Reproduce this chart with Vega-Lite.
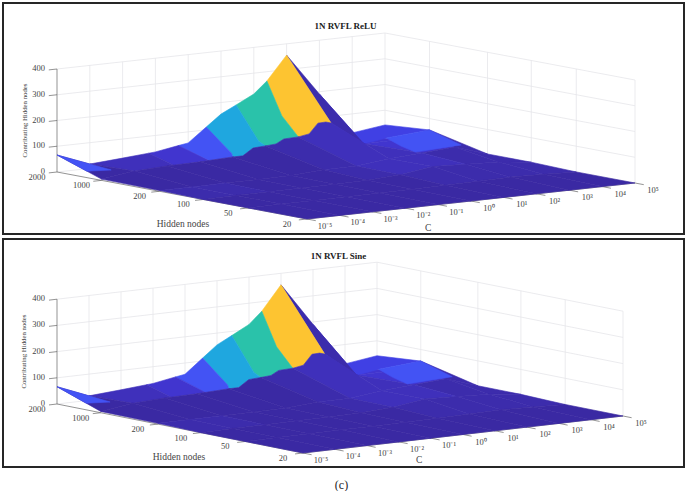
{"$schema":"https://vega.github.io/schema/vega-lite/v6.json","padding":{"left":2,"top":2,"right":2,"bottom":0},"spacing":3,"background":"white","config":{"view":{"stroke":"#262626","strokeWidth":2},"text":{"font":"Liberation Serif"},"title":{"font":"Liberation Serif"}},"title":{"text":"(c)","orient":"bottom","anchor":"middle","font":"Liberation Serif","fontSize":12,"fontWeight":"normal","color":"#222","offset":12,"dx":-2},"datasets":{"scene":[
{"kind":"g","id":"h0","c":[0,10],"f":[0,0],"z":[0,0],"k":[0,1]},{"kind":"g","id":"h1","c":[0,10],"f":[0,0],"z":[100,100],"k":[0,1]},{"kind":"g","id":"h2","c":[0,10],"f":[0,0],"z":[200,200],"k":[0,1]},{"kind":"g","id":"h3","c":[0,10],"f":[0,0],"z":[300,300],"k":[0,1]},{"kind":"g","id":"h4","c":[0,10],"f":[0,0],"z":[400,400],"k":[0,1]},
{"kind":"g","id":"r0","c":[10,10],"f":[0,1],"z":[0,0],"k":[0,1]},{"kind":"g","id":"r1","c":[10,10],"f":[0,1],"z":[100,100],"k":[0,1]},{"kind":"g","id":"r2","c":[10,10],"f":[0,1],"z":[200,200],"k":[0,1]},{"kind":"g","id":"r3","c":[10,10],"f":[0,1],"z":[300,300],"k":[0,1]},{"kind":"g","id":"r4","c":[10,10],"f":[0,1],"z":[400,400],"k":[0,1]},
{"kind":"g","id":"v1","c":[1,1],"f":[0,0],"z":[0,400],"k":[0,1]},{"kind":"g","id":"v2","c":[2,2],"f":[0,0],"z":[0,400],"k":[0,1]},{"kind":"g","id":"v3","c":[3,3],"f":[0,0],"z":[0,400],"k":[0,1]},{"kind":"g","id":"v4","c":[4,4],"f":[0,0],"z":[0,400],"k":[0,1]},{"kind":"g","id":"v5","c":[5,5],"f":[0,0],"z":[0,400],"k":[0,1]},{"kind":"g","id":"v6","c":[6,6],"f":[0,0],"z":[0,400],"k":[0,1]},{"kind":"g","id":"v7","c":[7,7],"f":[0,0],"z":[0,400],"k":[0,1]},{"kind":"g","id":"v8","c":[8,8],"f":[0,0],"z":[0,400],"k":[0,1]},{"kind":"g","id":"v9","c":[9,9],"f":[0,0],"z":[0,400],"k":[0,1]},{"kind":"g","id":"v10","c":[10,10],"f":[0,0],"z":[0,400],"k":[0,1]},
{"kind":"g","id":"w1","c":[10,10],"f":[0.178,0.178],"z":[0,400],"k":[0,1]},{"kind":"g","id":"w2","c":[10,10],"f":[0.41,0.41],"z":[0,400],"k":[0,1]},{"kind":"g","id":"w3","c":[10,10],"f":[0.585,0.585],"z":[0,400],"k":[0,1]},{"kind":"g","id":"w4","c":[10,10],"f":[0.765,0.765],"z":[0,400],"k":[0,1]},{"kind":"g","id":"w5","c":[10,10],"f":[1,1],"z":[0,400],"k":[0,1]},
{"kind":"a","id":"az","c":[0,0],"f":[0,0],"z":[0,400],"k":[0,1]},{"kind":"a","id":"al","c":[0,0],"f":[0,1],"z":[0,0],"k":[0,1]},{"kind":"a","id":"af","c":[0,10],"f":[1,1],"z":[0,0],"k":[0,1]},
{"kind":"a","id":"tz0","c":[-0.25,0],"f":[0,0],"z":[0,0],"k":[0,1]},{"kind":"a","id":"tz1","c":[-0.25,0],"f":[0,0],"z":[100,100],"k":[0,1]},{"kind":"a","id":"tz2","c":[-0.25,0],"f":[0,0],"z":[200,200],"k":[0,1]},{"kind":"a","id":"tz3","c":[-0.25,0],"f":[0,0],"z":[300,300],"k":[0,1]},{"kind":"a","id":"tz4","c":[-0.25,0],"f":[0,0],"z":[400,400],"k":[0,1]},
{"kind":"a","id":"th1","c":[-0.25,0],"f":[0.178,0.178],"z":[0,0],"k":[0,1]},{"kind":"a","id":"th2","c":[-0.25,0],"f":[0.41,0.41],"z":[0,0],"k":[0,1]},{"kind":"a","id":"th3","c":[-0.25,0],"f":[0.585,0.585],"z":[0,0],"k":[0,1]},{"kind":"a","id":"th4","c":[-0.25,0],"f":[0.765,0.765],"z":[0,0],"k":[0,1]},{"kind":"a","id":"th5","c":[-0.25,0],"f":[1,1],"z":[0,0],"k":[0,1]},
{"kind":"a","id":"tc0","c":[0,0],"f":[1,1.035],"z":[0,0],"k":[0,1]},{"kind":"a","id":"tc1","c":[1,1],"f":[1,1.035],"z":[0,0],"k":[0,1]},{"kind":"a","id":"tc2","c":[2,2],"f":[1,1.035],"z":[0,0],"k":[0,1]},{"kind":"a","id":"tc3","c":[3,3],"f":[1,1.035],"z":[0,0],"k":[0,1]},{"kind":"a","id":"tc4","c":[4,4],"f":[1,1.035],"z":[0,0],"k":[0,1]},{"kind":"a","id":"tc5","c":[5,5],"f":[1,1.035],"z":[0,0],"k":[0,1]},{"kind":"a","id":"tc6","c":[6,6],"f":[1,1.035],"z":[0,0],"k":[0,1]},{"kind":"a","id":"tc7","c":[7,7],"f":[1,1.035],"z":[0,0],"k":[0,1]},{"kind":"a","id":"tc8","c":[8,8],"f":[1,1.035],"z":[0,0],"k":[0,1]},{"kind":"a","id":"tc9","c":[9,9],"f":[1,1.035],"z":[0,0],"k":[0,1]},{"kind":"a","id":"tc10","c":[10,10],"f":[1,1.035],"z":[0,0],"k":[0,1]},
{"kind":"s","id":"s01","lvl":3,"c":[8,9,9,8],"f":[0,0,0.178,0.178],"z":[191,26,31,30],"k":[0,1,2,3]},
{"kind":"s","id":"s02","lvl":4,"c":[9,10,10,8.9,8],"f":[0,0,0.178,0.15,0.178],"z":[26,43,56,35,30],"k":[0,1,2,3,4]},
{"kind":"s","id":"s03","lvl":1,"c":[7,8,8,7],"f":[0,0,0.178,0.178],"z":[356,191,30,125],"k":[0,1,2,3]},
{"kind":"s","id":"s04","lvl":8,"c":[6.4,7,7,6.84,6.6,6.33,6,6.17],"f":[0,0,0.178,0.178,0.178,0.178,0.178,0.09],"z":[264,356,125,131,130,92,85,148],"k":[0,1,2,3,4,5,6,7]},
{"kind":"s","id":"s05","lvl":7,"c":[5.46,6,6.4,6.17,6,5.56,5.32,5,5.23],"f":[0,0,0,0.09,0.178,0.178,0.178,0.178,0.12],"z":[184,219,264,148,85,83,67,64,69],"k":[0,1,2,3,4,5,6,7,8]},
{"kind":"s","id":"s06","lvl":6,"c":[4.55,5,5.46,5.23,5,4.62,4.31,4,4.1],"f":[0,0,0,0.12,0.178,0.178,0.178,0.178,0.16],"z":[111,155,184,69,64,61,35,35,45],"k":[0,1,2,3,4,5,6,7,8]},
{"kind":"s","id":"s07","lvl":5,"c":[3.7,4,4.55,4.1,4,3.27],"f":[0,0,0,0.16,0.178,0.178],"z":[51,57,111,45,35,31],"k":[0,1,2,3,4,5]},
{"kind":"s","id":"s08","lvl":3,"c":[2.8,3,3.7,3.27,2.2],"f":[0,0,0,0.178,0.178],"z":[34,36,51,31,28],"k":[0,1,2,3,4]},
{"kind":"s","id":"s09","lvl":2,"c":[1,2,2.8,2.2,1],"f":[0,0,0,0.178,0.178],"z":[17,26,34,28,22],"k":[0,1,2,3,4]},
{"kind":"s","id":"s10","lvl":0,"c":[0,1,1,0],"f":[0,0,0.178,0.178],"z":[66,17,22,5],"k":[0,1,2,3]},
{"kind":"s","id":"s11","lvl":5,"c":[0,1,0.89,0.53],"f":[0,0,0.1,0.05],"z":[66,17,13.6,5],"k":[0,1,2,3]},
{"kind":"s","id":"s12","lvl":1,"c":[9,10,10,9],"f":[0.178,0.178,0.41,0.41],"z":[31,56,5,46],"k":[0,1,2,3]},
{"kind":"s","id":"s13","lvl":3,"c":[8,9,9,8],"f":[0.178,0.178,0.41,0.41],"z":[30,31,46,37],"k":[0,1,2,3]},
{"kind":"s","id":"s14","lvl":2,"c":[7,8,8,7],"f":[0.178,0.178,0.41,0.41],"z":[125,30,37,28],"k":[0,1,2,3]},
{"kind":"s","id":"s15","lvl":2,"c":[6,6.33,6.6,6.84,7,7,6],"f":[0.178,0.178,0.178,0.178,0.178,0.41,0.41],"z":[85,92,130,131,125,28,14],"k":[0,1,2,3,4,5,6]},
{"kind":"s","id":"s16","lvl":1,"c":[5,5.32,5.56,6,6,5],"f":[0.178,0.178,0.178,0.178,0.41,0.41],"z":[64,67,83,85,14,14],"k":[0,1,2,3,4,5]},
{"kind":"s","id":"s17","lvl":0,"c":[4,4.31,4.62,5,5,4],"f":[0.178,0.178,0.178,0.178,0.41,0.41],"z":[35,35,61,64,14,5],"k":[0,1,2,3,4,5]},
{"kind":"s","id":"s18","lvl":0,"c":[3,4,4,3],"f":[0.178,0.178,0.41,0.41],"z":[30,35,5,4],"k":[0,1,2,3]},
{"kind":"s","id":"s19","lvl":0,"c":[2,3,3,2],"f":[0.178,0.178,0.41,0.41],"z":[28,30,4,4],"k":[0,1,2,3]},
{"kind":"s","id":"s20","lvl":0,"c":[1,2,2,1],"f":[0.178,0.178,0.41,0.41],"z":[22,28,4,3],"k":[0,1,2,3]},
{"kind":"s","id":"s21","lvl":0,"c":[0,1,1,0],"f":[0.178,0.178,0.41,0.41],"z":[5,22,3,3],"k":[0,1,2,3]},
{"kind":"s","id":"s22","lvl":5,"c":[8.9,10,9.2,8.4,7.8,8.2],"f":[0.15,0.178,0.41,0.41,0.41,0.3],"z":[35,56,51,47,43,41],"k":[0,1,2,3,4,5]},
{"kind":"s","id":"s23","lvl":1,"c":[9,10,10,9],"f":[0.41,0.41,0.585,0.585],"z":[46,5,5,20],"k":[0,1,2,3]},
{"kind":"s","id":"s24","lvl":1,"c":[8,9,9,8],"f":[0.41,0.41,0.585,0.585],"z":[37,46,20,25],"k":[0,1,2,3]},
{"kind":"s","id":"s25","lvl":2,"c":[7,8,8,7],"f":[0.41,0.41,0.585,0.585],"z":[28,37,25,30],"k":[0,1,2,3]},
{"kind":"s","id":"s26","lvl":2,"c":[6,7,7,6],"f":[0.41,0.41,0.585,0.585],"z":[14,28,30,12],"k":[0,1,2,3]},
{"kind":"s","id":"s27","lvl":1,"c":[5,6,6,5],"f":[0.41,0.41,0.585,0.585],"z":[14,14,12,5],"k":[0,1,2,3]},
{"kind":"s","id":"s28","lvl":0,"c":[4,5,5,4],"f":[0.41,0.41,0.585,0.585],"z":[5,14,5,3],"k":[0,1,2,3]},
{"kind":"s","id":"s29","lvl":0,"c":[3,4,4,3],"f":[0.41,0.41,0.585,0.585],"z":[4,5,3,3],"k":[0,1,2,3]},
{"kind":"s","id":"s30","lvl":0,"c":[2,3,3,2],"f":[0.41,0.41,0.585,0.585],"z":[4,4,3,2],"k":[0,1,2,3]},
{"kind":"s","id":"s31","lvl":1,"c":[1,2,2,1],"f":[0.41,0.41,0.585,0.585],"z":[3,4,2,2],"k":[0,1,2,3]},
{"kind":"s","id":"s32","lvl":1,"c":[0,1,1,0],"f":[0.41,0.41,0.585,0.585],"z":[3,3,2,0],"k":[0,1,2,3]},
{"kind":"s","id":"s33","lvl":1,"c":[9,10,10,9],"f":[0.585,0.585,0.765,0.765],"z":[20,5,0,5],"k":[0,1,2,3]},
{"kind":"s","id":"s34","lvl":1,"c":[8,9,9,8],"f":[0.585,0.585,0.765,0.765],"z":[25,20,5,8],"k":[0,1,2,3]},
{"kind":"s","id":"s35","lvl":1,"c":[7,8,8,7],"f":[0.585,0.585,0.765,0.765],"z":[30,25,8,6],"k":[0,1,2,3]},
{"kind":"s","id":"s36","lvl":1,"c":[6,7,7,6],"f":[0.585,0.585,0.765,0.765],"z":[12,30,6,4],"k":[0,1,2,3]},
{"kind":"s","id":"s37","lvl":0,"c":[5,6,6,5],"f":[0.585,0.585,0.765,0.765],"z":[5,12,4,3],"k":[0,1,2,3]},
{"kind":"s","id":"s38","lvl":0,"c":[4,5,5,4],"f":[0.585,0.585,0.765,0.765],"z":[3,5,3,2],"k":[0,1,2,3]},
{"kind":"s","id":"s39","lvl":0,"c":[3,4,4,3],"f":[0.585,0.585,0.765,0.765],"z":[3,3,2,2],"k":[0,1,2,3]},
{"kind":"s","id":"s40","lvl":0,"c":[2,3,3,2],"f":[0.585,0.585,0.765,0.765],"z":[2,3,2,1],"k":[0,1,2,3]},
{"kind":"s","id":"s41","lvl":0,"c":[1,2,2,1],"f":[0.585,0.585,0.765,0.765],"z":[2,2,1,1],"k":[0,1,2,3]},
{"kind":"s","id":"s42","lvl":0,"c":[0,1,1,0],"f":[0.585,0.585,0.765,0.765],"z":[0,2,1,0],"k":[0,1,2,3]},
{"kind":"s","id":"s43","lvl":0,"c":[9,10,10,9],"f":[0.765,0.765,1,1],"z":[5,0,0,0],"k":[0,1,2,3]},
{"kind":"s","id":"s44","lvl":0,"c":[8,9,9,8],"f":[0.765,0.765,1,1],"z":[8,5,0,0],"k":[0,1,2,3]},
{"kind":"s","id":"s45","lvl":0,"c":[7,8,8,7],"f":[0.765,0.765,1,1],"z":[6,8,0,0],"k":[0,1,2,3]},
{"kind":"s","id":"s46","lvl":0,"c":[6,7,7,6],"f":[0.765,0.765,1,1],"z":[4,6,0,0],"k":[0,1,2,3]},
{"kind":"s","id":"s47","lvl":0,"c":[5,6,6,5],"f":[0.765,0.765,1,1],"z":[3,4,0,0],"k":[0,1,2,3]},
{"kind":"s","id":"s48","lvl":0,"c":[4,5,5,4],"f":[0.765,0.765,1,1],"z":[2,3,0,0],"k":[0,1,2,3]},
{"kind":"s","id":"s49","lvl":0,"c":[3,4,4,3],"f":[0.765,0.765,1,1],"z":[2,2,0,0],"k":[0,1,2,3]},
{"kind":"s","id":"s50","lvl":0,"c":[2,3,3,2],"f":[0.765,0.765,1,1],"z":[1,2,0,0],"k":[0,1,2,3]},
{"kind":"s","id":"s51","lvl":0,"c":[1,2,2,1],"f":[0.765,0.765,1,1],"z":[1,1,0,0],"k":[0,1,2,3]},
{"kind":"s","id":"s52","lvl":0,"c":[0,1,1,0],"f":[0.765,0.765,1,1],"z":[0,1,0,0],"k":[0,1,2,3]},
{"kind":"zl","id":"z0","text":"0","c":[0],"f":[0],"z":[0],"k":[0]},{"kind":"zl","id":"z1","text":"100","c":[0],"f":[0],"z":[100],"k":[0]},{"kind":"zl","id":"z2","text":"200","c":[0],"f":[0],"z":[200],"k":[0]},{"kind":"zl","id":"z3","text":"300","c":[0],"f":[0],"z":[300],"k":[0]},{"kind":"zl","id":"z4","text":"400","c":[0],"f":[0],"z":[400],"k":[0]},
{"kind":"hl","id":"l2000","text":"2000","c":[0],"f":[0],"z":[0],"k":[0]},{"kind":"hl","id":"l1000","text":"1000","c":[0],"f":[0.178],"z":[0],"k":[0]},{"kind":"hl","id":"l200","text":"200","c":[0],"f":[0.41],"z":[0],"k":[0]},{"kind":"hl","id":"l100","text":"100","c":[0],"f":[0.585],"z":[0],"k":[0]},{"kind":"hl","id":"l50","text":"50","c":[0],"f":[0.765],"z":[0],"k":[0]},{"kind":"hl","id":"l20","text":"20","c":[0],"f":[1],"z":[0],"k":[0]},
{"kind":"cl","id":"c0","text":"10⁻⁵","c":[0],"f":[1],"z":[0],"k":[0]},{"kind":"cl","id":"c1","text":"10⁻⁴","c":[1],"f":[1],"z":[0],"k":[0]},{"kind":"cl","id":"c2","text":"10⁻³","c":[2],"f":[1],"z":[0],"k":[0]},{"kind":"cl","id":"c3","text":"10⁻²","c":[3],"f":[1],"z":[0],"k":[0]},{"kind":"cl","id":"c4","text":"10⁻¹","c":[4],"f":[1],"z":[0],"k":[0]},{"kind":"cl","id":"c5","text":"10⁰","c":[5],"f":[1],"z":[0],"k":[0]},{"kind":"cl","id":"c6","text":"10¹","c":[6],"f":[1],"z":[0],"k":[0]},{"kind":"cl","id":"c7","text":"10²","c":[7],"f":[1],"z":[0],"k":[0]},{"kind":"cl","id":"c8","text":"10³","c":[8],"f":[1],"z":[0],"k":[0]},{"kind":"cl","id":"c9","text":"10⁴","c":[9],"f":[1],"z":[0],"k":[0]},{"kind":"cl","id":"c10","text":"10⁵","c":[10],"f":[1],"z":[0],"k":[0]},
{"kind":"th","id":"th","text":"Hidden nodes","c":[0],"f":[0.5],"z":[0],"k":[0]},{"kind":"tc","id":"tc","text":"C","c":[3.6],"f":[1],"z":[0],"k":[0]},{"kind":"tz","id":"tz","text":"Contributing Hidden nodes","c":[0],"f":[0],"z":[200],"k":[0]}
]},
"vconcat":[
{"width":681,"height":231,"title":{"text":"1N RVFL ReLU","offset":-28,"dx":2,"fontSize":9,"fontWeight":"bold","color":"#222"},"data":{"name":"scene"},
"transform":[{"flatten":["c","f","z","k"]},{"calculate":"54+32.8*datum.c+250*datum.f","as":"px"},{"calculate":"169-3.6*datum.c+47*datum.f-0.2575*datum.z","as":"py"}],
"encoding":{"x":{"field":"px","type":"quantitative","axis":null,"scale":{"domain":[0,681],"nice":false,"zero":false}},"y":{"field":"py","type":"quantitative","axis":null,"scale":{"domain":[231,0],"nice":false,"zero":false}}},
"layer":[
{"transform":[{"filter":"datum.kind=='g'"}],"mark":{"type":"line","stroke":"#e6e6ea","strokeWidth":0.8,"clip":false},"encoding":{"detail":{"field":"id"},"order":{"field":"k"}}},
{"transform":[{"filter":"datum.kind=='a'"}],"mark":{"type":"line","stroke":"#666","strokeWidth":0.7,"clip":false},"encoding":{"detail":{"field":"id"},"order":{"field":"k"}}},
{"transform":[{"filter":"datum.kind=='s'"}],"mark":{"type":"line","interpolate":"linear-closed","strokeWidth":0.6,"clip":false},"encoding":{"detail":{"field":"id"},"order":{"field":"k"},"fill":{"field":"lvl","type":"ordinal","legend":null,"scale":{"domain":[0,1,2,3,4,5,6,7,8],"range":["#3a29a3","#3c2cac","#3f30bb","#4135cf","#4040e4","#4353f4","#1fa7df","#2ac2aa","#fdc431"]}},"stroke":{"field":"lvl","type":"ordinal","legend":null,"scale":{"domain":[0,1,2,3,4,5,6,7,8],"range":["#3a29a3","#3c2cac","#3f30bb","#4135cf","#4040e4","#4353f4","#1fa7df","#2ac2aa","#fdc431"]}}}},
{"transform":[{"filter":"datum.kind=='zl'"}],"mark":{"type":"text","align":"right","dx":-12,"dy":-1,"fontSize":8.5,"fill":"#444"},"encoding":{"text":{"field":"text"}}},
{"transform":[{"filter":"datum.kind=='hl'"}],"mark":{"type":"text","dx":-20,"dy":5,"fontSize":8.5,"fill":"#444"},"encoding":{"text":{"field":"text"}}},
{"transform":[{"filter":"datum.kind=='cl'"}],"mark":{"type":"text","dx":18,"dy":7,"fontSize":8.5,"fill":"#444"},"encoding":{"text":{"field":"text"}}},
{"transform":[{"filter":"datum.kind=='th'"}],"mark":{"type":"text","dx":1,"dy":28,"fontSize":9.5,"fill":"#444"},"encoding":{"text":{"field":"text"}}},
{"transform":[{"filter":"datum.kind=='tc'"}],"mark":{"type":"text","dx":3,"dy":22,"fontSize":9.5,"fill":"#444"},"encoding":{"text":{"field":"text"}}},
{"transform":[{"filter":"datum.kind=='tz'"}],"mark":{"type":"text","dy":-32,"angle":270,"fontSize":6.8,"fill":"#444"},"encoding":{"text":{"field":"text"}}}
]},
{"width":681,"height":228,"title":{"text":"1N RVFL Sine","offset":-22,"dx":-5,"fontSize":9,"fontWeight":"bold","color":"#222"},"data":{"name":"scene"},
"transform":[{"flatten":["c","f","z","k"]},{"calculate":"54+32*datum.c+246*datum.f","as":"px"},{"calculate":"165-3.7*datum.c+49*datum.f-0.262*datum.z","as":"py"}],
"encoding":{"x":{"field":"px","type":"quantitative","axis":null,"scale":{"domain":[0,681],"nice":false,"zero":false}},"y":{"field":"py","type":"quantitative","axis":null,"scale":{"domain":[228,0],"nice":false,"zero":false}}},
"layer":[
{"transform":[{"filter":"datum.kind=='g'"}],"mark":{"type":"line","stroke":"#e6e6ea","strokeWidth":0.8,"clip":false},"encoding":{"detail":{"field":"id"},"order":{"field":"k"}}},
{"transform":[{"filter":"datum.kind=='a'"}],"mark":{"type":"line","stroke":"#666","strokeWidth":0.7,"clip":false},"encoding":{"detail":{"field":"id"},"order":{"field":"k"}}},
{"transform":[{"filter":"datum.kind=='s'"}],"mark":{"type":"line","interpolate":"linear-closed","strokeWidth":0.6,"clip":false},"encoding":{"detail":{"field":"id"},"order":{"field":"k"},"fill":{"field":"lvl","type":"ordinal","legend":null,"scale":{"domain":[0,1,2,3,4,5,6,7,8],"range":["#3a29a3","#3c2cac","#3f30bb","#4135cf","#4040e4","#4353f4","#1fa7df","#2ac2aa","#fdc431"]}},"stroke":{"field":"lvl","type":"ordinal","legend":null,"scale":{"domain":[0,1,2,3,4,5,6,7,8],"range":["#3a29a3","#3c2cac","#3f30bb","#4135cf","#4040e4","#4353f4","#1fa7df","#2ac2aa","#fdc431"]}}}},
{"transform":[{"filter":"datum.kind=='zl'"}],"mark":{"type":"text","align":"right","dx":-12,"dy":-1,"fontSize":8.5,"fill":"#444"},"encoding":{"text":{"field":"text"}}},
{"transform":[{"filter":"datum.kind=='hl'"}],"mark":{"type":"text","dx":-20,"dy":5,"fontSize":8.5,"fill":"#444"},"encoding":{"text":{"field":"text"}}},
{"transform":[{"filter":"datum.kind=='cl'"}],"mark":{"type":"text","dx":18,"dy":7,"fontSize":8.5,"fill":"#444"},"encoding":{"text":{"field":"text"}}},
{"transform":[{"filter":"datum.kind=='th'"}],"mark":{"type":"text","dx":-1,"dy":28,"fontSize":9.5,"fill":"#444"},"encoding":{"text":{"field":"text"}}},
{"transform":[{"filter":"datum.kind=='tc'"}],"mark":{"type":"text","dx":1,"dy":20,"fontSize":9.5,"fill":"#444"},"encoding":{"text":{"field":"text"}}},
{"transform":[{"filter":"datum.kind=='tz'"}],"mark":{"type":"text","dy":-33,"angle":270,"fontSize":6.8,"fill":"#444"},"encoding":{"text":{"field":"text"}}}
]}
]}
